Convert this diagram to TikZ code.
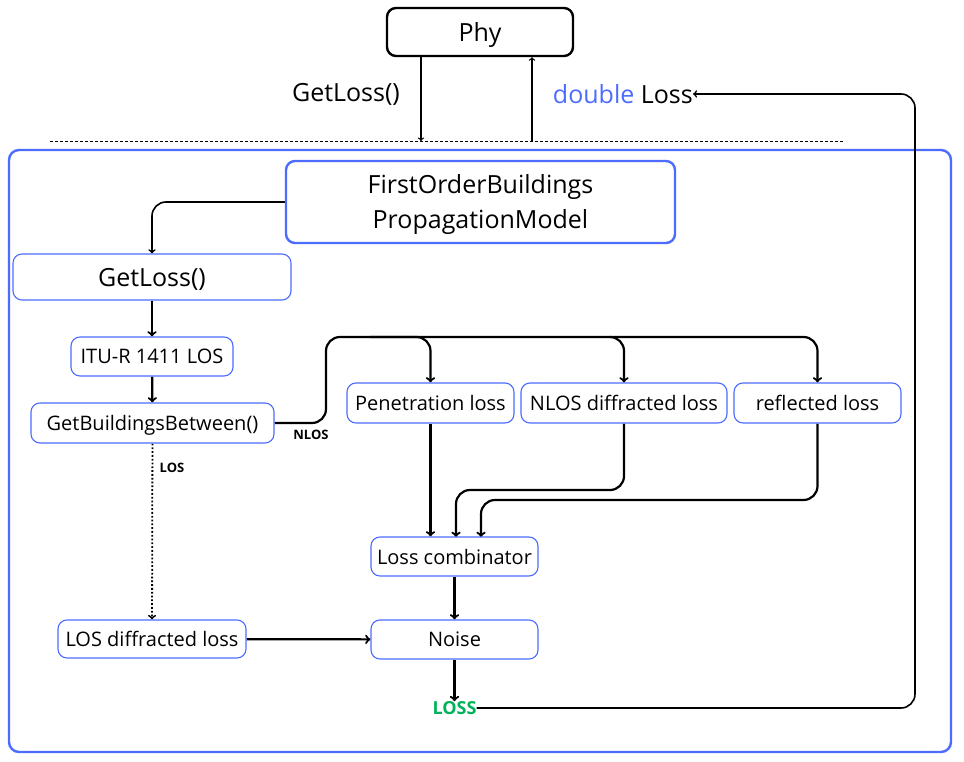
\documentclass[tikz,border=0pt]{standalone}
\usepackage{fontspec}
\setmainfont{Open Sans}
\usepackage{tikz}
\usetikzlibrary{arrows}
\pgfdeclarelayer{edgelayer}
\pgfdeclarelayer{nodelayer}
\pgfsetlayers{edgelayer,nodelayer,main}
\definecolor{boxblue}{rgb}{0.30,0.42,1.0}
\definecolor{lossgreen}{rgb}{0.0,0.70,0.35}
\tikzstyle{none}=[inner sep=0pt]
\tikzstyle{bigbox}=[draw=boxblue, rounded corners=9pt, line width=1.1pt, text depth=0pt, font=\fontsize{25}{30}\selectfont]
\tikzstyle{smallbox}=[draw=boxblue, rounded corners=9pt, line width=1.1pt, text depth=0pt, font=\fontsize{20}{24}\selectfont]
\tikzstyle{conn}=[line width=2.2pt]
\tikzstyle{thin}=[line width=1.3pt]
\tikzstyle{tag}=[inner sep=0pt, font=\bfseries\fontsize{13}{15}\selectfont]

\begin{document}
\begin{tikzpicture}[x=1pt, y=-1pt]
	\useasboundingbox (0, 0) rectangle (964, 762);
	\begin{pgfonlayer}{nodelayer}
		\node [style=none, draw, line width=2.4pt, rounded corners=9pt, minimum width=186pt, minimum height=48pt, text depth=0pt, font=\fontsize{25}{30}\selectfont] (phy) at (480, 32) {Phy};
		\node [style=none, font=\fontsize{25}{30}\selectfont] (getlosstop) at (346, 94) {GetLoss()};
		\node [style=none, font=\fontsize{25}{30}\selectfont, anchor=east] (doubleloss) at (693, 94) {\textcolor{boxblue}{double} Loss};
		\node [style=none, bigbox, line width=2.4pt, minimum width=389pt, minimum height=82pt, align=center] (model) at (480.5, 202) {FirstOrderBuildings\\[5pt]PropagationModel};
		\node [style=none, bigbox, minimum width=278pt, minimum height=46pt] (getloss) at (152, 277) {GetLoss()};
		\node [style=none, smallbox, minimum width=162pt, minimum height=39pt] (itu) at (152, 356.5) {ITU-R 1411 LOS};
		\node [style=none, smallbox, minimum width=243pt, minimum height=40pt] (between) at (152.5, 423) {GetBuildingsBetween()};
		\node [style=none, smallbox, minimum width=167pt, minimum height=40pt] (penetration) at (430.5, 403) {Penetration loss};
		\node [style=none, smallbox, minimum width=206pt, minimum height=40pt] (nlosdiff) at (624, 403) {NLOS diffracted loss};
		\node [style=none, smallbox, minimum width=167pt, minimum height=40pt] (reflected) at (817.5, 403) {reflected loss};
		\node [style=none, smallbox, minimum width=167pt, minimum height=39pt] (combinator) at (454.5, 556.5) {Loss combinator};
		\node [style=none, smallbox, minimum width=188pt, minimum height=38pt] (losdiff) at (152, 639) {LOS diffracted loss};
		\node [style=none, smallbox, minimum width=167pt, minimum height=39pt] (noise) at (454.5, 639.5) {Noise};
		\node [style=none, text=lossgreen, font=\bfseries\fontsize{18}{21}\selectfont] (loss) at (454.5, 708) {LOSS};
		\node [style=tag] (nlostag) at (311, 435) {NLOS};
		\node [style=tag] (lostag) at (172, 468) {LOS};
		\coordinate (upbus) at (326, 337);
		\coordinate (nearbus) at (370, 337);
		\coordinate (midbus) at (420, 337);
		\coordinate (farbus) at (610, 337);
		\coordinate (topright) at (915, 94);
		\coordinate (downend) at (421, 141);
		\coordinate (upstart) at (532, 141);
	\end{pgfonlayer}
	\begin{pgfonlayer}{edgelayer}
		\draw [dashed, line width=0.8pt, dash pattern=on 3pt off 2pt] (50, 141) to (843, 141);
		\draw [draw=boxblue, line width=2.4pt, rounded corners=10pt] (9, 150) rectangle (951, 752);
		\draw [->, thin] (phy.south -| downend) to (downend);
		\draw [->, thin] (upstart) to (phy.south -| upstart);
		\draw [->, thin, line width=1.6pt, rounded corners=14pt] (loss.east) -- (loss.east -| topright) -- (topright) -- (doubleloss.east);
		\draw [->, thin, line width=1.6pt, rounded corners=14pt] (model.west) -| (getloss.north);
		\draw [->, conn] (getloss) to (itu);
		\draw [->, conn] (itu) to (between);
		\draw [->, line width=1.8pt, dotted] (between) to (losdiff);
		\draw [conn, rounded corners=14pt] (between.east) -- (between.east -| upbus) -- (upbus) -- (midbus);
		\draw [->, conn, rounded corners=14pt] (nearbus) -| (penetration.north);
		\draw [->, conn, rounded corners=14pt] (midbus) -| (nlosdiff.north);
		\draw [->, conn, rounded corners=14pt] (farbus) -| (reflected.north);
		\draw [->, conn] (penetration.south) to (penetration.south |- combinator.north);
		\draw [->, conn, rounded corners=14pt] (nlosdiff.south) |- (456, 490) -- (456, 537);
		\draw [->, conn, rounded corners=14pt] (reflected.south) |- (481, 500) -- (481, 537);
		\draw [->, conn] (combinator) to (noise);
		\draw [->, conn] (losdiff) to (noise);
		\draw [->, conn] (noise) to (loss);
	\end{pgfonlayer}
\end{tikzpicture}
\end{document}
